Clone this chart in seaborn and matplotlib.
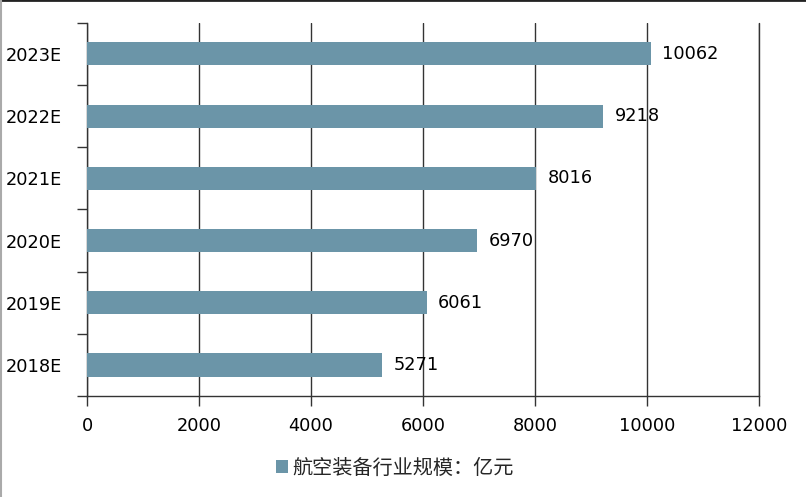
import matplotlib
matplotlib.use('Agg')
import matplotlib.pyplot as plt
import seaborn as sns
import pandas as pd
from matplotlib.patches import Patch
from matplotlib.lines import Line2D

years = ['2018E', '2019E', '2020E', '2021E', '2022E', '2023E']
values = [5271, 6061, 6970, 8016, 9218, 10062]
xticks = [0, 2000, 4000, 6000, 8000, 10000, 12000]
legend_label = '航空装备行业规模：亿元'

bar_color = '#6b95a8'

sns.set_style('white')
plt.rcParams['font.family'] = ['DejaVu Sans', 'Noto Sans CJK SC']

df = pd.DataFrame({'year': years, 'value': values})

fig = plt.figure(figsize=(8.06, 4.97), dpi=100)
ax = fig.add_axes([0.108, 0.203, 0.834, 0.751])

sns.barplot(data=df, x='value', y='year', order=years[::-1], orient='h',
            color=bar_color, width=0.37, saturation=1, linewidth=0, ax=ax, zorder=3)

ax.set_xlim(0, 12000)
ax.set_xticks(xticks)
ax.set_xticklabels([str(t) for t in xticks], fontsize=12.8)
ax.set_ylim(len(years) - 0.5, -0.5)
ax.set_yticks(range(len(years)))
ax.set_yticklabels(years[::-1], fontsize=12.8)
ax.set_xlabel('')
ax.set_ylabel('')

# vertical grid lines
ax.grid(axis='x', color='#333333', linewidth=1.0, zorder=0)
ax.grid(axis='y', visible=False)
ax.axvline(12000, color='#333333', linewidth=1.0, clip_on=False, zorder=0)

for s in ['top', 'right']:
    ax.spines[s].set_visible(False)
for s in ['left', 'bottom']:
    ax.spines[s].set_color('#333333')
    ax.spines[s].set_linewidth(1.0)

# ticks: y ticks sit between categories
ax.tick_params(axis='y', length=0, pad=18, labelcolor='black')
ax.tick_params(axis='x', length=7, width=1, color='#333333', direction='out', pad=8,
               bottom=True, labelcolor='black')
ax.set_yticks([i + 0.5 for i in range(-1, len(years))], minor=True)
ax.tick_params(axis='y', which='minor', length=7, width=1, color='#333333', direction='out', left=True)

for i, v in enumerate(values[::-1]):
    ax.text(v + 200, i, str(v), va='center', ha='left', fontsize=12.8, color='black')

handles = [Patch(facecolor=bar_color, edgecolor='none', label=legend_label)]
fig.legend(handles=handles, loc='center', bbox_to_anchor=(0.49, 0.058), frameon=False,
           prop={'family': ['Noto Sans CJK SC', 'DejaVu Sans'], 'size': 14.5},
           handlelength=0.6, handleheight=0.6, handletextpad=0.2)

# border lines of the picture
fig.add_artist(Line2D([0, 1], [0.999, 0.999], transform=fig.transFigure, color='#222222', linewidth=2))
fig.add_artist(Line2D([0.001, 0.001], [0, 1], transform=fig.transFigure, color='#aaaaaa', linewidth=1.5))

fig.savefig('out.png', dpi=100)
